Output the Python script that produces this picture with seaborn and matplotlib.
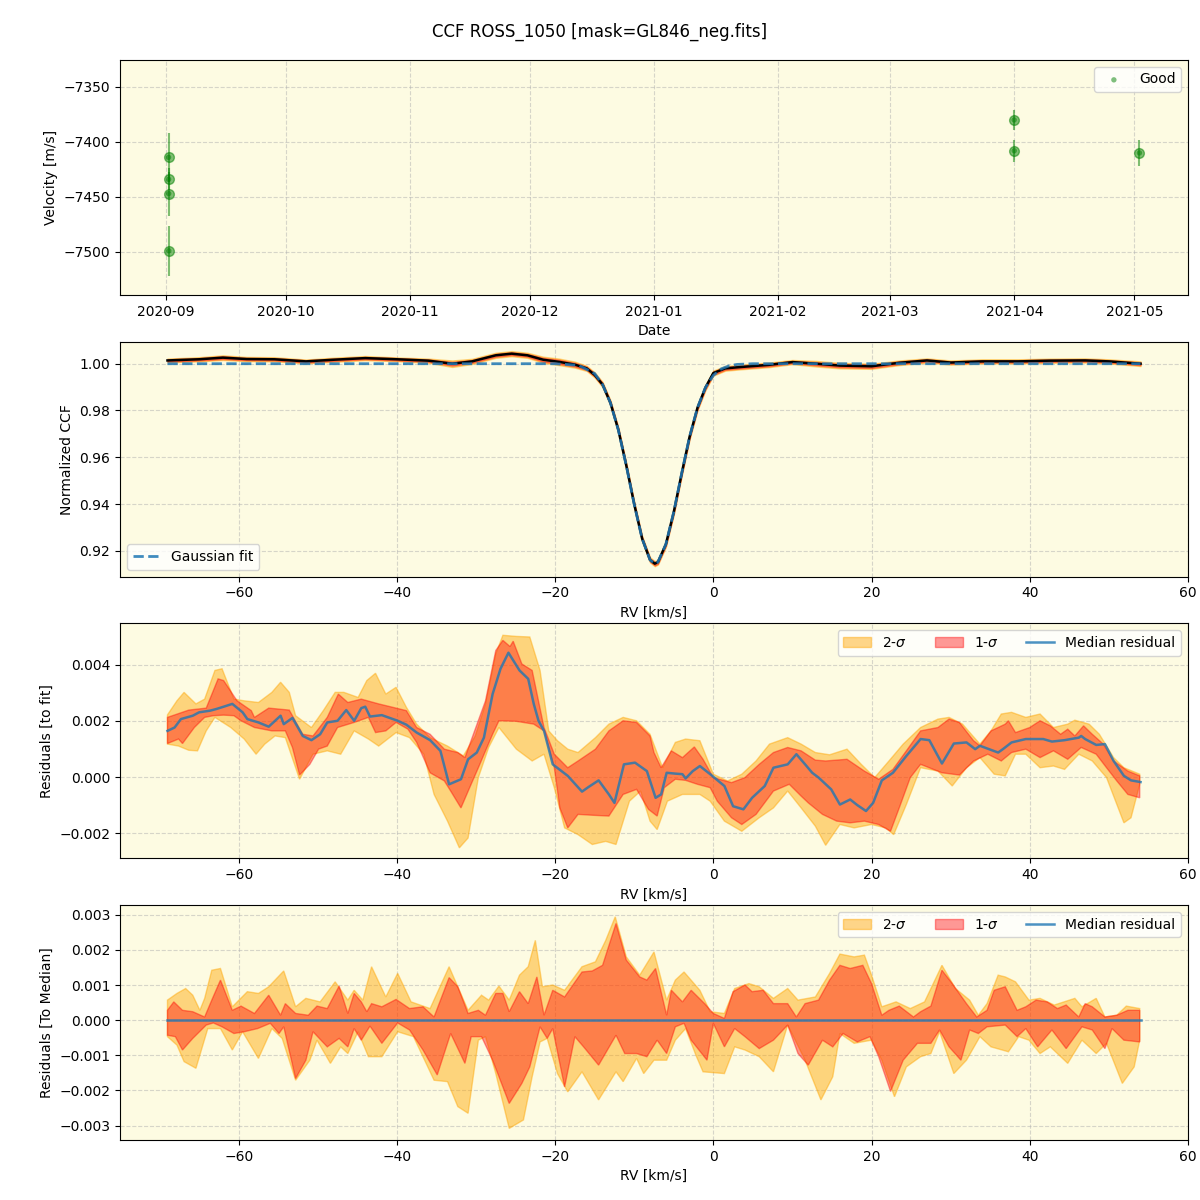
import numpy as np
import pandas as pd
import matplotlib
matplotlib.use("Agg")
import matplotlib.pyplot as plt
import seaborn as sns

# --- panel 1: RV time series ---
obs_dates = ["2020-09-01 18:00", "2020-09-01 18:30", "2020-09-01 19:00", "2020-09-01 19:30",
             "2021-03-31 23:00", "2021-03-31 23:30", "2021-05-02 06:00"]
obs_vel = [-7414, -7434, -7447, -7499, -7380, -7408, -7410]
obs_err = [22, 10, 20, 23, 9, 10, 12]

# --- panel 2: CCF ---
ccf_rv = [-69, -65, -62, -59, -55.5, -51.5, -48, -44, -40, -36, -33, -30.5, -27.5, -25.5, -23.5,
          -21.5, -19.5, -17.5, -16, -15, -14, -13, -12, -11, -10, -9, -8, -7.4, -7, -6, -5, -4,
          -3, -2, -1, 0, 1.5, 3.5, 7, 10, 13, 16, 20, 23.5, 27, 30, 34, 38.5, 42.5, 47, 50, 54]
ccf_val = [1.0014, 1.0019, 1.0026, 1.0020, 1.0019, 1.0010, 1.0017, 1.0024, 1.0019, 1.0013, 1.0000,
           1.0010, 1.0036, 1.0043, 1.0036, 1.0017, 1.0008, 0.9996, 0.9980, 0.9952, 0.9911, 0.9832,
           0.9716, 0.9564, 0.9399, 0.9252, 0.9161, 0.9145, 0.9152, 0.9228, 0.9366, 0.9531, 0.9688,
           0.9812, 0.9898, 0.9960, 0.9980, 0.9986, 0.9995, 1.0007, 1.0000, 0.9992, 0.9989, 1.0004,
           1.0014, 1.0005, 1.0010, 1.0010, 1.0013, 1.0014, 1.0010, 1.0000]
ccf_err1 = [0.0005, 0.0005, 0.0006, 0.0005, 0.0005, 0.0005, 0.0005, 0.0005, 0.0005, 0.0005, 0.0008,
            0.0006, 0.0006, 0.0006, 0.0006, 0.0008, 0.0009, 0.0008, 0.0007, 0.0007, 0.0007, 0.0007,
            0.0007, 0.0007, 0.0007, 0.0007, 0.0007, 0.0007, 0.0007, 0.0007, 0.0007, 0.0007, 0.0007,
            0.0007, 0.0007, 0.0007, 0.0006, 0.0006, 0.0006, 0.0005, 0.0007, 0.0007, 0.0007, 0.0006,
            0.0005, 0.0005, 0.0005, 0.0005, 0.0005, 0.0005, 0.0005, 0.0006]
ccf_err2 = [0.0008, 0.0009, 0.0010, 0.0009, 0.0009, 0.0008, 0.0009, 0.0009, 0.0008, 0.0009, 0.0014,
            0.0011, 0.0011, 0.0011, 0.0011, 0.0013, 0.0014, 0.0013, 0.0011, 0.0011, 0.0011, 0.0011,
            0.0011, 0.0011, 0.0011, 0.0011, 0.0011, 0.0011, 0.0011, 0.0011, 0.0011, 0.0011, 0.0011,
            0.0011, 0.0011, 0.0011, 0.0010, 0.0010, 0.0010, 0.0009, 0.0012, 0.0012, 0.0011, 0.0010,
            0.0009, 0.0009, 0.0009, 0.0009, 0.0009, 0.0009, 0.0009, 0.0010]
gauss_rv = [-69, -20, -17, -15, -14, -13, -12, -11, -10, -9, -8, -7.4, -7, -6, -5, -4, -3, -2, -1,
            0, 1, 2, 3, 5, 54]
gauss_val = [1.0, 1.0, 0.9993, 0.9958, 0.9911, 0.9832, 0.9716, 0.9564, 0.9399, 0.9252, 0.9161,
             0.9145, 0.9152, 0.9228, 0.9366, 0.9531, 0.9688, 0.9812, 0.9898, 0.9950, 0.9978,
             0.9991, 0.9997, 1.0, 1.0]

# --- panel 3: residuals to fit (units of 1e-3) ---
fit_med_rv = [-69, -68.1, -67.3, -65.8, -65, -63.6, -62.8, -61.9, -60.8, -59.5, -58.9, -57.5, -56.2,
              -54.7, -54.3, -53.2, -51.9, -50.8, -49.7, -48.8, -47.5, -46.4, -45.4, -44.5, -44,
              -43.4, -41.9, -39.9, -38.8, -37.5, -35.8, -34.5, -33.4, -31.9, -31, -29.9, -29, -27.9,
              -26.9, -25.9, -24.5, -23.4, -22.7, -22.1, -21.4, -20.3, -18.4, -16.6, -15.8, -14.5,
              -13.2, -12.5, -11.3, -9.9, -8.4, -7.3, -6.6, -5.9, -4.8, -3.9, -3.5, -2.6, -1.7, -0.4,
              1.4, 2.5, 3.8, 4.9, 6.5, 7.6, 9.4, 10.5, 11.6, 12.5, 13.3, 14.9, 16, 17.3, 18.2, 19.3,
              20.2, 21.3, 22.7, 24.4, 26.2, 27.3, 28.9, 30.4, 32, 33.1, 33.7, 36, 36.6, 37.7, 39.5,
              41.7, 42.8, 44.4, 46.2, 46.5, 47, 48.4, 49.5, 50.6, 51.9, 52.8, 54]
fit_med = [1.64, 1.76, 2.06, 2.18, 2.3, 2.36, 2.42, 2.5, 2.6, 2.3, 2.06, 1.94, 1.79, 2.18, 1.88, 2.1,
           1.46, 1.31, 1.52, 1.94, 2.0, 2.38, 2.0, 2.45, 2.5, 2.15, 2.2, 2.0, 1.86, 1.58, 1.31, 0.93,
           -0.26, -0.08, 0.63, 0.87, 1.4, 2.95, 3.85, 4.42, 3.79, 3.49, 2.6, 2.0, 1.64, 0.45, 0.04,
           -0.52, -0.36, -0.12, -0.62, -0.92, 0.45, 0.51, 0.21, -0.74, -0.62, 0.15, 0.12, 0.1, -0.05,
           0.21, 0.39, 0.1, -0.32, -1.04, -1.15, -0.74, -0.32, 0.33, 0.45, 0.81, 0.45, 0.15, -0.02,
           -0.44, -0.98, -0.8, -1.0, -1.21, -0.92, -0.12, 0.15, 0.75, 1.35, 1.31, 0.48, 1.19, 1.23,
           0.99, 1.11, 0.87, 0.99, 1.23, 1.35, 1.35, 1.26, 1.31, 1.4, 1.46, 1.35, 1.14, 1.17, 0.57,
           0.04, -0.12, -0.18]

fit_1s_hi_rv = [-69, -66.3, -64.1, -62.6, -61.9, -60.2, -58.4, -58, -56.2, -53.6, -51.9, -50.6, -48.8,
                -47.4, -46.2, -44.5, -42.3, -40.1, -38.8, -37.5, -35.8, -34, -32.3, -31.4, -28.8,
                -27.5, -26.6, -25.7, -25.3, -24.2, -22.9, -21.4, -20.1, -18.4, -17.1, -14.9, -13.2,
                -11.4, -9.7, -8, -7.5, -6.6, -5.3, -3.9, -2.4, -1.3, 0, 2.3, 4, 5.8, 7.6, 9.4, 11.1,
                12.9, 14.2, 16.9, 19.1, 20.9, 22.7, 24.4, 26.2, 28.4, 29.8, 31.1, 32.9, 33.7, 35.1,
                36.9, 37.3, 38.2, 40, 41.3, 42.6, 43.9, 44.8, 45.7, 46.8, 47.9, 49.3, 50.6, 52.4, 53.9]
fit_1s_hi = [2.12, 2.38, 2.45, 3.49, 3.43, 2.71, 2.36, 2.12, 2.45, 2.38, 1.52, 1.46, 2.12, 2.95, 2.65,
             2.77, 2.6, 2.45, 2.36, 1.76, 1.52, 0.99, 0.87, 0.69, 2.71, 4.5, 4.86, 4.64, 4.83, 4.02,
             3.79, 1.76, 0.81, 0.33, 0.57, 0.99, 1.64, 2.0, 1.94, 1.46, 0.87, 0.33, 0.93, 0.69, 1.07,
             0.63, -0.02, -0.2, -0.02, 0.45, 0.87, 1.05, 0.93, 0.6, 0.57, 0.63, 0.21, -0.08, 0.27,
             0.93, 1.64, 1.76, 2.06, 1.94, 1.29, 1.11, 1.64, 1.88, 2.0, 1.58, 1.76, 2.0, 1.82, 1.52,
             1.7, 1.46, 1.82, 1.52, 1.17, 0.57, 0.21, 0.04]
fit_1s_lo_rv = [-69, -67.6, -67.1, -65.6, -64.3, -63.2, -61.9, -60.6, -59.7, -58, -55.8, -54.1, -53.2,
                -52.3, -51, -49.9, -48.8, -47.5, -45.4, -43.6, -42.7, -41.4, -40.1, -38.6, -37.5,
                -35.8, -34, -33.2, -31.9, -30.8, -29.7, -27.9, -27.1, -24.9, -22.7, -21.4, -20.1,
                -19.4, -18.4, -17.1, -15.3, -13.2, -11.4, -9.7, -8.2, -7.1, -6.2, -4.8, -3.5, -2,
                -0.4, 0.5, 2.3, 3.6, 5.4, 7.6, 9.6, 11.1, 12, 13.8, 15.6, 17.3, 19.1, 20.9, 22.4, 23.5,
                24.9, 26.2, 28.9, 31.1, 32.9, 34.7, 36.4, 37.7, 39.5, 41.3, 43, 44.8, 46.5, 48.4, 49.7,
                51, 52.4, 53.9]
fit_1s_lo = [1.19, 1.35, 1.19, 1.76, 2.12, 2.18, 2.2, 2.18, 2.0, 1.76, 1.64, 1.64, 1.05, 0.07, 0.45,
             0.99, 1.1, 1.76, 1.94, 2.12, 1.58, 1.64, 1.94, 1.7, 1.23, 0.15, -0.14, -0.5, -1.1, -0.38,
             0.33, 1.52, 2.0, 1.98, 1.88, 1.64, 0.33, -1.1, -1.81, -1.33, -1.36, -1.39, -0.62, -0.44,
             -1.15, -1.39, -0.38, -0.08, -0.12, -0.26, -0.38, -0.86, -1.45, -1.69, -1.33, -0.5,
             -0.26, -0.68, -0.92, -1.33, -1.57, -1.63, -1.57, -1.69, -1.93, -1.1, -0.02, 0.45, 0.15,
             0.07, 0.57, 0.81, 0.57, 0.87, 0.99, 0.69, 0.93, 0.63, 1.05, 0.81, 0.33, -0.14, -0.62,
             -0.74]
fit_2s_hi_rv = [-69, -67.8, -66.9, -65.4, -64.3, -63, -62.1, -60.6, -59.3, -57.5, -55.8, -54.7, -53.6,
                -52.8, -50.8, -49.3, -47.8, -46.7, -44.9, -43.8, -42.7, -41.4, -40.1, -38.8, -37.5,
                -35.8, -33.6, -31.6, -30.1, -28.8, -27.5, -26.6, -24.9, -23.2, -21.9, -20.8, -19.7,
                -18.4, -17.1, -14.9, -13.2, -11.4, -9.7, -8, -6.4, -4.8, -3.5, -1.7, 0, 1.8, 3.6, 5.4,
                7.1, 9.4, 11.1, 12.9, 14.7, 16.9, 18.7, 20.4, 22.2, 24, 26.2, 28.4, 29.8, 31.5, 33.7,
                35.1, 36.4, 37.7, 39.5, 41.3, 43, 44.8, 45.7, 47.5, 48.8, 50.6, 51.9, 53.9]
fit_2s_hi = [2.21, 2.71, 3.01, 2.6, 2.77, 3.79, 3.85, 2.77, 2.71, 2.65, 3.01, 3.37, 3.01, 2.18, 1.76,
             2.36, 3.01, 3.01, 2.83, 3.43, 3.69, 2.95, 3.19, 2.48, 1.88, 1.4, 1.1, 0.75, 1.46, 2.6,
             4.38, 5.04, 5.0, 4.98, 3.79, 1.64, 1.29, 0.99, 0.87, 1.4, 1.88, 2.12, 2.0, 1.52, 0.33,
             1.23, 1.35, 1.29, 0.1, -0.14, 0.1, 0.57, 1.17, 1.4, 1.17, 0.87, 0.79, 0.99, 0.45, -0.02,
             0.57, 1.17, 1.76, 2.06, 2.12, 1.88, 1.17, 1.64, 2.24, 2.3, 2.12, 2.24, 1.76, 1.88, 2.02,
             1.88, 1.52, 0.69, 0.33, 0.1]
fit_2s_lo_rv = [-69, -67.6, -66.3, -65.2, -64.1, -63, -61, -59.3, -57.8, -56.7, -55.4, -54.1, -52.3,
                -50.6, -48.8, -47.1, -45.4, -43.6, -42.3, -40.1, -38.4, -36.6, -35.3, -33.6, -32.1,
                -31, -29.7, -28.4, -27.1, -24.9, -22.9, -21.4, -20.1, -18.8, -17.1, -15.3, -13.6,
                -12.3, -10.6, -9.2, -8, -7.1, -5.8, -3.9, -1.7, -0.4, 1.4, 3.6, 5.8, 7.6, 9.4, 11.1,
                12.9, 14.2, 16, 17.8, 20, 21.8, 22.8, 24.4, 26.2, 28.4, 30.2, 32, 33.7, 35.5, 36.9,
                38.2, 39.5, 41.3, 43, 44.4, 46.2, 47.9, 49.7, 51.9, 52.8, 53.9]
fit_2s_lo = [1.17, 1.1, 0.95, 0.93, 1.64, 2.12, 1.76, 1.35, 0.81, 1.17, 1.46, 1.4, -0.08, 0.81, 0.93,
             0.81, 1.64, 1.35, 1.1, 1.58, 1.4, 0.81, -0.62, -1.57, -2.52, -2.17, -0.02, 1.05, 1.76,
             0.99, 0.57, 0.81, -0.38, -1.81, -2.05, -2.4, -2.29, -2.4, -0.86, -0.5, -1.57, -1.87,
             -0.86, -0.62, -0.62, -0.86, -1.57, -1.93, -1.45, -1.1, -0.5, -1.1, -1.75, -2.43, -1.69,
             -1.81, -1.69, -1.81, -2.05, -0.98, 0.33, 0.21, -0.32, 0.33, 0.69, 0.1, 0.04, 0.81, 0.81,
             0.33, 0.39, 0.27, 0.81, 0.57, -0.02, -1.63, -1.45, -0.26]

# --- panel 4: residuals to median (units of 1e-3) ---
med_line_rv = [-69, 54]
med_line = [0.0, 0.0]

md_1s_hi_rv = [-69, -68.2, -67.1, -65.8, -64.3, -63.4, -62.3, -60.8, -59.7, -58, -56.2, -54.7, -54.1,
               -52.8, -51.2, -50.1, -48.8, -47.3, -46.2, -45.4, -44.5, -43.8, -43.2, -41.9, -40.1,
               -38.4, -36.7, -35.3, -33.4, -32.3, -31, -29.7, -28.8, -27.5, -26.6, -25.8, -24.5,
               -23.4, -22.3, -21.4, -20.3, -18.8, -16.6, -15.3, -14, -12.3, -11, -9.3, -8.4, -7.3,
               -5.9, -5.3, -3.9, -2.8, -1.1, 0, 1.4, 2.5, 4, 4.9, 6.3, 7.6, 9.4, 10.5, 11.6, 13.3,
               14.7, 16, 17.3, 18.9, 20, 21.3, 22.2, 23.5, 25.3, 26.2, 27.5, 28.9, 30.2, 32, 33.3,
               34.6, 35.5, 36.9, 38.4, 39.5, 40.8, 42.2, 43.5, 44.6, 46.2, 47, 47.9, 49.5, 51, 52.4,
               53.9]
md_1s_hi = [0.28, 0.52, 0.28, 0.24, 0.09, 0.57, 1.14, 0.28, 0.4, 0.19, 0.71, 0.14, 0.47, 0.19, 0.14,
            0.4, 0.33, 0.97, 0.19, 0.76, 0.52, 0.24, 0.47, 0.38, 0.59, 0.33, 0.38, 0.09, 1.21, 0.95,
            0.19, 0.28, 0.14, 0.76, 0.76, 0.24, 0.81, 0.47, 1.23, 0.14, 0.85, 0.66, 1.37, 1.4, 1.56,
            2.75, 1.71, 1.23, 1.14, 1.47, 0.14, 0.85, 0.52, 0.85, 0.47, 0.19, 0.05, 0.81, 1.0, 0.81,
            0.85, 0.47, 0.47, 0.09, 0.47, 0.57, 1.14, 1.56, 1.47, 1.56, 1.04, 0.14, 0.28, 0.4, 0.09,
            0.24, 0.4, 1.42, 1.04, 0.47, 0.09, 0.28, 0.85, 0.95, 0.28, 0.38, 0.57, 0.52, 0.33, 0.43,
            0.09, 0.47, 0.38, 0.09, 0.14, 0.28, 0.28]
md_1s_lo_rv = [-69, -68, -67.1, -65.8, -64.1, -63.2, -62.1, -60.6, -59.3, -57.6, -56, -54.9, -54.3,
               -52.8, -51.5, -50.6, -48.8, -47.3, -46.2, -45.4, -44.5, -43.4, -41.9, -39.9, -38.4,
               -36.7, -34.9, -33.2, -31.4, -30.6, -29.3, -27.9, -25.8, -24.2, -23.2, -21.9, -21,
               -20.3, -18.8, -17.5, -16.4, -14.5, -12.3, -11.2, -9.7, -8.4, -7.1, -5.9, -4.8, -3.7,
               -2.8, -0.8, 0, 1.4, 2.7, 4, 5.8, 7.6, 9.4, 10.7, 12, 13.8, 15.1, 16.4, 18.2, 19.8,
               20.9, 22.4, 24, 25.8, 27.5, 28.6, 29.8, 31.3, 32.4, 33.5, 34.6, 36.9, 38.4, 39.5, 41,
               42.8, 44.6, 46.6, 47.9, 49.5, 50.4, 51.9, 53.9]
md_1s_lo = [-0.43, -0.47, -0.85, -0.52, -0.14, -0.08, -0.19, -0.38, -0.33, -0.24, -0.09, -0.38, -0.19,
            -1.66, -1.14, -0.33, -0.76, -0.52, -0.76, -0.24, -0.57, -0.17, -0.66, -0.08, -0.28, -0.85,
            -1.56, -0.38, -1.23, -0.47, -0.47, -1.14, -2.37, -1.8, -1.33, -0.19, -0.52, -0.24, -1.9,
            -0.47, -0.76, -1.28, -0.43, -0.95, -0.95, -1.04, -0.57, -0.95, -0.19, -0.09, -0.57,
            -1.14, -0.09, -0.76, -0.24, -0.47, -0.81, -0.57, -0.14, -0.95, -1.28, -0.57, -0.76,
            -0.38, -0.62, -0.47, -1.04, -2.03, -1.14, -0.66, -0.66, -0.28, -0.76, -1.14, -0.28,
            -0.38, -0.19, -0.14, -0.47, -0.24, -0.76, -0.28, -0.81, -0.19, -0.28, -0.81, -0.24,
            -0.57, -0.62]
md_2s_hi_rv = [-69, -67.8, -66.7, -65.8, -64.9, -64.3, -63.4, -62.3, -60.8, -58.9, -57.5, -56.2, -54.3,
               -52.8, -51.5, -49.7, -47.8, -46.2, -45.4, -44.3, -43.2, -41.4, -39.9, -38.2, -35.8,
               -33.4, -31, -29.3, -28.4, -27.1, -25.8, -24.5, -23.4, -22.5, -21.6, -20.3, -18.8,
               -16.6, -14.9, -13.6, -12.4, -11, -9.3, -7.5, -5.9, -4.8, -3.7, -1.7, -0.4, 1.4, 2.7,
               4.5, 5.8, 7.6, 9.4, 10.7, 12.9, 14.7, 16, 17.8, 19.1, 20, 21.3, 23.1, 24.9, 26.7,
               28.9, 30.6, 32.4, 33.5, 34.6, 36, 36.9, 38.2, 39.9, 41.3, 43.1, 45.7, 46.6, 48.4,
               49.5, 51, 52.2, 53.9]
md_2s_hi = [0.57, 0.76, 0.9, 0.71, 0.28, 0.62, 1.42, 1.47, 0.38, 0.81, 0.76, 0.95, 1.4, 0.38, 0.62,
            0.52, 1.09, 0.57, 0.85, 0.57, 1.52, 0.66, 1.33, 0.52, 0.33, 1.52, 0.28, 0.71, 0.57, 0.97,
            0.57, 1.28, 1.52, 2.27, 0.95, 1.0, 0.85, 1.52, 1.66, 2.27, 2.94, 1.8, 1.28, 1.94, 0.57,
            1.14, 1.37, 0.85, 0.24, 0.19, 0.9, 1.04, 0.95, 0.62, 0.9, 0.57, 0.66, 1.33, 1.88, 1.8,
            1.85, 1.28, 0.38, 0.52, 0.33, 0.52, 1.56, 0.9, 0.57, 0.14, 0.47, 1.28, 1.23, 1.09, 0.57,
            0.62, 0.43, 0.62, 0.38, 0.62, 0.09, 0.14, 0.4, 0.33]
md_2s_lo_rv = [-69, -67.8, -66.9, -65.4, -63.9, -62.3, -60.8, -59.5, -57.5, -55.8, -54.5, -52.8, -51,
               -50.1, -48.4, -47.1, -46.2, -44.9, -43.6, -41.9, -39.9, -37.9, -35.3, -33.6, -32.3,
               -31, -29.7, -28.8, -27.5, -25.8, -24, -22.9, -21.9, -21, -19.7, -18.4, -16.6, -14.5,
               -12.3, -11.4, -9.7, -8.8, -7.5, -5.9, -4.8, -3.5, -2.2, -1.3, 1.4, 2.7, 4, 5.8, 7.6,
               9.4, 11.6, 13.6, 15.1, 16, 17.8, 20, 21.3, 22.9, 24.4, 26.2, 27.5, 28.6, 30.4, 32,
               33.7, 35.1, 37.3, 38.6, 39.9, 41.3, 42.6, 44.8, 46.6, 48.4, 49.7, 51.7, 53.2, 53.9]
md_2s_lo = [-0.47, -0.71, -1.18, -1.37, -0.24, -0.24, -0.85, -0.33, -1.09, -0.24, -0.52, -1.71, -1.14,
            -0.57, -1.23, -0.76, -0.95, -0.33, -1.04, -1.04, -0.33, -0.47, -1.71, -1.75, -2.46,
            -2.65, -0.57, -0.47, -1.52, -3.08, -2.84, -1.61, -0.62, -0.52, -1.52, -2.04, -1.47,
            -2.27, -1.47, -1.75, -1.09, -1.52, -1.14, -1.14, -0.57, -0.24, -1.0, -1.47, -1.52,
            -0.76, -0.85, -1.04, -1.47, -0.14, -1.14, -2.27, -1.61, -0.38, -0.66, -0.57, -1.14,
            -2.18, -1.33, -1.04, -0.95, -0.33, -1.52, -1.14, -0.47, -0.76, -0.9, -0.47, -0.57,
            -0.95, -0.76, -1.23, -0.57, -0.95, -0.66, -1.8, -1.33, -0.57]

bg = "#fdfbe2"
band2 = "orange"
band1 = "red"


def band(ax, xu, yu, xl, yl, color, alpha, label):
    # polygon from upper edge + reversed lower edge (values given in 1e-3)
    xs = np.concatenate([xu, xl[::-1]])
    ys = np.concatenate([yu, yl[::-1]]) * 1e-3
    ax.fill(xs, ys, color=color, alpha=alpha, label=label)


fig, axes = plt.subplots(4, 1, figsize=(12, 12), dpi=100)
fig.subplots_adjust(left=0.1, right=0.99, top=0.95, bottom=0.05, hspace=0.2)
fig.suptitle("CCF ROSS_1050 [mask=GL846_neg.fits]", y=0.981, fontsize=12)

for ax in axes:
    ax.set_facecolor(bg)
    ax.grid(True, linestyle="--", color="#b0b0b0", alpha=0.5)
    ax.set_axisbelow(True)

# panel 1
ax1 = axes[0]
dates = pd.to_datetime(obs_dates)
ax1.errorbar(dates, obs_vel, yerr=obs_err, fmt="o", color="green", ms=7, alpha=0.5, elinewidth=1.5)
sns.scatterplot(x=dates, y=obs_vel, color="green", s=15, alpha=0.5, edgecolor="none", label="Good", ax=ax1)
ax1.set_ylim(-7539, -7325.5)
ax1.set_xlabel("Date")
ax1.set_ylabel("Velocity [m/s]")
ax1.legend(loc="upper right")

# panel 2
ax2 = axes[1]
cv = np.array(ccf_val)
ax2.fill_between(ccf_rv, cv - np.array(ccf_err2), cv + np.array(ccf_err2), color=band2, alpha=0.45)
ax2.fill_between(ccf_rv, cv - np.array(ccf_err1), cv + np.array(ccf_err1), color=band1, alpha=0.4)
sns.lineplot(x=ccf_rv, y=ccf_val, color="black", lw=1.8, ax=ax2)
sns.lineplot(x=gauss_rv, y=gauss_val, color="tab:blue", ls="--", lw=2, alpha=0.85, label="Gaussian fit", ax=ax2)
ax2.set_xlim(-75, 60)
ax2.set_ylim(0.909, 1.0094)
ax2.set_xlabel("RV [km/s]")
ax2.set_ylabel("Normalized CCF")
ax2.legend(loc="lower left")

# panel 3
ax3 = axes[2]
band(ax3, fit_2s_hi_rv, fit_2s_hi, fit_2s_lo_rv, fit_2s_lo, band2, 0.45, "2-$\\sigma$")
band(ax3, fit_1s_hi_rv, fit_1s_hi, fit_1s_lo_rv, fit_1s_lo, band1, 0.4, "1-$\\sigma$")
sns.lineplot(x=fit_med_rv, y=np.array(fit_med) * 1e-3, color="tab:blue", lw=1.8, alpha=0.8,
             label="Median residual", ax=ax3)
ax3.set_xlim(-75, 60)
ax3.set_ylim(-0.00289, 0.00546)
ax3.set_xlabel("RV [km/s]")
ax3.set_ylabel("Residuals [to fit]")
ax3.legend(loc="upper right", ncol=3)

# panel 4
ax4 = axes[3]
band(ax4, md_2s_hi_rv, md_2s_hi, md_2s_lo_rv, md_2s_lo, band2, 0.45, "2-$\\sigma$")
band(ax4, md_1s_hi_rv, md_1s_hi, md_1s_lo_rv, md_1s_lo, band1, 0.4, "1-$\\sigma$")
sns.lineplot(x=med_line_rv, y=med_line, color="tab:blue", lw=1.8, alpha=0.8,
             label="Median residual", ax=ax4)
ax4.set_xlim(-75, 60)
ax4.set_ylim(-0.00341, 0.00327)
ax4.set_xlabel("RV [km/s]")
ax4.set_ylabel("Residuals [To Median]")
ax4.legend(loc="upper right", ncol=3)

fig.savefig("out.png", dpi=100)
